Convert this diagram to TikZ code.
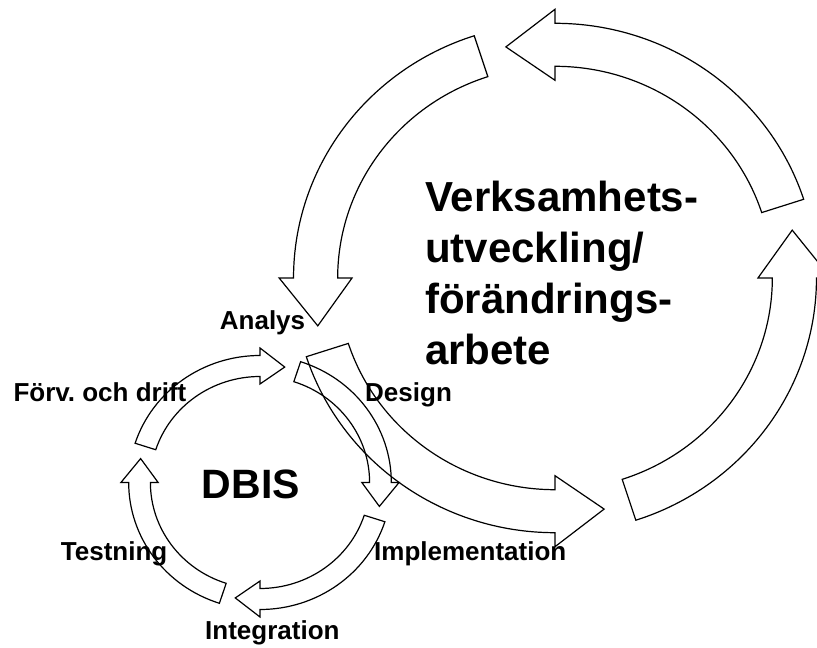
\documentclass[tikz,border=0pt]{standalone}
\usepackage{fontspec}
\setmainfont{Liberation Sans}
\frenchspacing
\tikzset{
  blockarrow/.style={draw=black, line width=1.2pt, line join=miter, fill=none},
  lbl/.style={font=\fontsize{26}{30}\selectfont\bfseries, anchor=base west, inner sep=0pt},
  bigtext/.style={font=\fontsize{42}{51}\selectfont\bfseries, anchor=base west, inner sep=0pt},
}
% Curved block arrow on a circle around the current origin:
% #1 mid radius, #2 half shaft width, #3 half head width,
% #4 tail angle, #5 angle where the head starts
\newcommand{\blockarc}[5]{%
  \pgfmathsetmacro\baOut{#1+#2}%
  \pgfmathsetmacro\baIn{#1-#2}%
  \pgfmathsetmacro\baHo{#1+#3}%
  \pgfmathsetmacro\baHi{#1-#3}%
  \pgfmathsetmacro\baTa{#5+11.7*sign(#5-#4)}%
  \pgfmathsetmacro\baTr{#1*1.012}%
  \draw[blockarrow] (#4:\baOut) arc[start angle=#4, end angle=#5, radius=\baOut]
    -- (#5:\baHo) -- (\baTa:\baTr) -- (#5:\baHi) -- (#5:\baIn)
    arc[start angle=#5, end angle=#4, radius=\baIn] -- cycle;%
}
\begin{document}
\begin{tikzpicture}[x=1pt,y=1pt]
\useasboundingbox (0,0) rectangle (817,648);

% outer cycle: business development
\begin{scope}[shift={(555,370)}, xscale=1.0266]
  \blockarc{233.2}{21.5}{35.5}{18}{90}
  \blockarc{233.2}{21.5}{35.5}{108}{180}
  \blockarc{233.2}{21.5}{35.5}{198}{270}
  \blockarc{233.2}{21.5}{35.5}{288}{360}
\end{scope}

% inner cycle: DBIS
\begin{scope}[shift={(260,165.5)}, xscale=1.034]
  \blockarc{116.5}{10.5}{18}{162}{90}
  \blockarc{116.5}{10.5}{18}{72}{0}
  \blockarc{116.5}{10.5}{18}{-18}{-90}
  \blockarc{116.5}{10.5}{18}{-108}{-180}
\end{scope}

\node[bigtext] (v1) at (425,436.3) {Verksamhets-};
\node[bigtext] (v2) at (425,385.2) {utveckling/};
\node[bigtext] (v3) at (425,334.1) {förändrings-};
\node[bigtext] (v4) at (425,283) {arbete};
\node[bigtext, font=\fontsize{41}{49}\selectfont\bfseries] (dbis) at (201.7,149.7) {DBIS};

\node[lbl] (analys) at (219.7,318) {Analys};
\node[lbl] (design) at (365,246.3) {Design};
\node[lbl] (forv) at (13.3,246.3) {Förv. och drift};
\node[lbl] (test) at (60.7,87) {Testning};
\node[lbl] (impl) at (374,87) {Implementation};
\node[lbl] (integ) at (205,8) {Integration};
\end{tikzpicture}
\end{document}
